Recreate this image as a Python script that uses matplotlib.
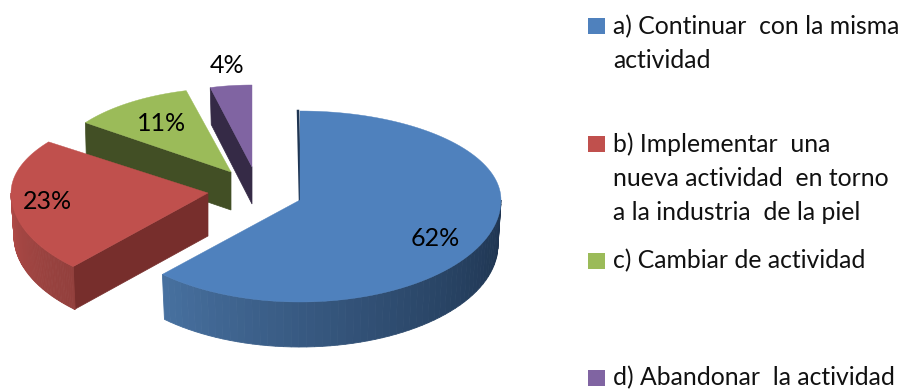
import numpy as np
import matplotlib
matplotlib.use("Agg")
import matplotlib.pyplot as plt
from matplotlib.colors import to_rgb
from matplotlib.patches import Rectangle

categories = ["a) Continuar  con la misma\nactividad",
              "b) Implementar  una\nnueva actividad  en torno\na la industria  de la piel",
              "c) Cambiar de actividad",
              "d) Abandonar  la actividad"]
values = [62, 23, 11, 4]
labels = ["62%", "23%", "11%", "4%"]

top_colors = ["#4F81BD", "#C0504D", "#9BBB59", "#8064A2"]
cut_colors = ["#1F3552", "#772E2C", "#424F25", "#352A46"]
wall_left = ["#47709F", "#B04A47", "#424F25", "#352A46"]
wall_right = ["#1E3450", "#93403D", "#424F25", "#352A46"]

apex = [(300, 200), (208, 193), (231, 172), (252, 167)]
rx = [201, 197, 180, 168]
ry_top = [89, 87, 84, 82]
ry_bot = [102, 101, 90, 90]
depth = [45, 43, 38, 37]
label_xy = [(435, 238), (47, 201), (162, 123), (227, 65)]
legend_y = [25.5, 143.5, 261, 378]
legend_line = [(27, 60), (144, 178, 212), (261,), (378,)]

plt.rcParams['font.family'] = ['Lato', 'DejaVu Sans']
fig = plt.figure(figsize=(9.03, 3.89), dpi=100)
ax = fig.add_axes([0, 0, 1, 1])
ax.set_xlim(0, 903)
ax.set_ylim(389, 0)
ax.axis("off")


def rim(i, t, drop=0.0, shrink=1.0):
    cx, cy = apex[i]
    ry = np.where(np.cos(t) > 0, ry_top[i], ry_bot[i])
    return cx + rx[i] * shrink * np.sin(t), cy + drop - ry * np.cos(t)


fractions = np.cumsum([0] + values) / sum(values) * 2 * np.pi
order = [2, 3, 1, 0]
for i in order:
    a0, a1 = fractions[i], fractions[i + 1]
    cx, cy = apex[i]
    d = depth[i]
    z = 3 + order.index(i) * 2
    # cut face at the leading edge
    if i > 0:
        x0, y0 = rim(i, a0)
        ax.fill([cx, x0, x0 + 1, cx], [cy, y0, y0 + d, cy + d],
                color=cut_colors[i], lw=0.5, zorder=z)
    else:
        x0, y0 = rim(i, 0.0)
        ax.plot([x0 - 2, cx], [y0, cy], color=cut_colors[i], lw=1.8, zorder=z)
    # outer wall as a shaded strip
    lo, hi = max(a0, np.pi / 2), min(a1, 3 * np.pi / 2)
    if hi > lo:
        ts = np.linspace(lo, hi, 60)
        c0, c1 = np.array(to_rgb(wall_right[i])), np.array(to_rgb(wall_left[i]))
        for k in range(len(ts) - 1):
            seg = np.array([ts[k], ts[k + 1]])
            xt, yt = rim(i, seg)
            xb, yb = rim(i, seg[::-1], d, 0.985)
            f = k / (len(ts) - 2)
            col = c0 + (c1 - c0) * f ** 1.2
            ax.fill(np.r_[xt, xb], np.r_[yt, yb], color=col, lw=0.6, zorder=z)
    # top face
    ts = np.linspace(a0, a1, 120)
    xs, ys = rim(i, ts)
    ax.fill(np.r_[cx, xs], np.r_[cy, ys], color=top_colors[i], lw=0.3, zorder=z + 1)

for (x, y), s in zip(label_xy, labels):
    ax.text(x, y, s, fontsize=18, ha="center", va="center", color="black", zorder=30)

for i, cat in enumerate(categories):
    ax.add_patch(Rectangle((588, legend_y[i] - 8), 17, 16, color=top_colors[i], lw=0))
    for line, y in zip(cat.split("\n"), legend_line[i]):
        ax.text(613, y, line, fontsize=17.8, ha="left", va="center", color="#111111")

fig.savefig("out.png", dpi=100)
